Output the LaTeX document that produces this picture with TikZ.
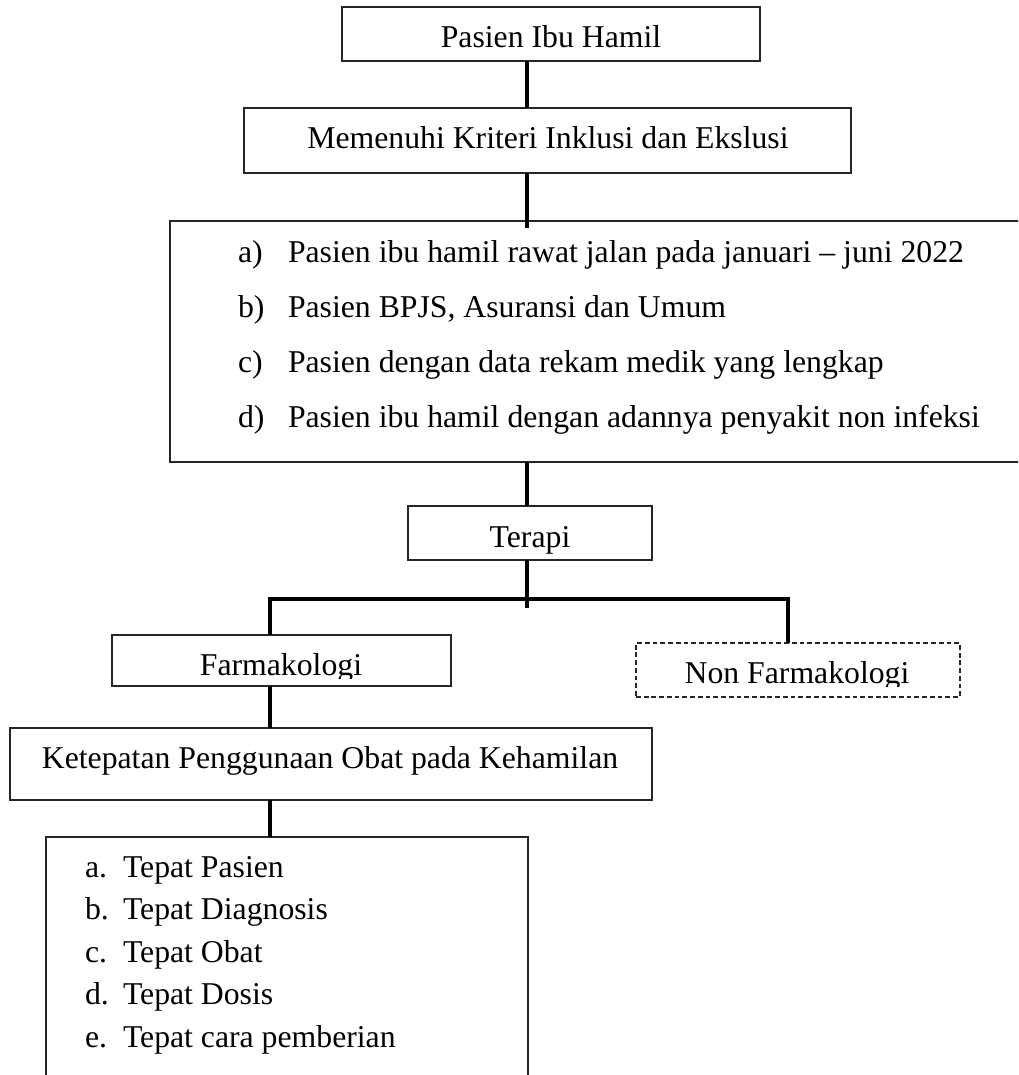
\documentclass[tikz,border=0pt]{standalone}
\usepackage{fontspec}
\setmainfont{Liberation Serif}
\begin{document}
\begin{tikzpicture}[x=0.75pt,y=-0.75pt,
  box/.style={draw=black!85, line width=0.9pt, inner sep=0pt, outer sep=0pt},
  dbox/.style={box, dash pattern=on 3.6pt off 2.2pt},
  txt/.style={inner sep=0pt, outer sep=0pt, anchor=base, font=\fontsize{23.8}{28}\selectfont},
  ltxt/.style={txt, anchor=base west},
  conn/.style={draw=black, line width=2.5pt, line join=miter}]
\useasboundingbox (0,0) rectangle (1018,1075);
\clip (0,0) rectangle (1018,1075);
\fill[white] (0,0) rectangle (1018,1075);

% boxes
\node[box, minimum width=313.5pt, minimum height=40.5pt] (b1) at (551,34) {};
\node[box, minimum width=455.25pt, minimum height=48.75pt] (b2) at (547.5,140.5) {};
\node[box, minimum width=652.5pt, minimum height=180.75pt] (b3) at (605,341.5) {};
\node[box, minimum width=183pt, minimum height=40.5pt] (b4) at (530,533) {};
\node[box, minimum width=254.25pt, minimum height=38.25pt] (b5) at (281.5,660.5) {};
\node[dbox, minimum width=243pt, minimum height=40.5pt] (b6) at (798,670) {};
\node[box, minimum width=481.5pt, minimum height=54pt] (b7) at (331,764) {};
\node[box, minimum width=361.5pt, minimum height=197.25pt] (b8) at (287,968.5) {};

% texts
\node[txt] (t1) at (551,47) {Pasien Ibu Hamil};
\node[txt] (t2) at (548,148) {Memenuhi Kriteri Inklusi dan Ekslusi};
\node[txt] (t4) at (530,547) {Terapi};
\begin{scope}
  \clip (114,637) rectangle (449,678);
  \node[txt] (t5) at (281,675) {Farmakologi};
\end{scope}
\begin{scope}
  \clip (638,645) rectangle (958,686);
  \node[txt] (t6) at (797,683) {Non Farmakologi};
\end{scope}
\node[txt] (t7) at (330,768) {Ketepatan Penggunaan Obat pada Kehamilan};

\node[ltxt] (la) at (238,262) {a)};
\node[ltxt] (ia) at (288,262) {Pasien ibu hamil rawat jalan pada januari -- juni 2022};
\node[ltxt] (lb) at (238,317) {b)};
\node[ltxt] (ib) at (288,317) {Pasien BPJS, Asuransi dan Umum};
\node[ltxt] (lc) at (238,372) {c)};
\node[ltxt] (ic) at (288,372) {Pasien dengan data rekam medik yang lengkap};
\node[ltxt] (ld) at (238,427) {d)};
\node[ltxt] (id) at (288,427) {Pasien ibu hamil dengan adannya penyakit non infeksi};

\node[ltxt] (ma) at (85,877) {a.};
\node[ltxt] (ja) at (123,877) {Tepat Pasien};
\node[ltxt] (mb) at (85,919.5) {b.};
\node[ltxt] (jb) at (123,919.5) {Tepat Diagnosis};
\node[ltxt] (mc) at (85,962) {c.};
\node[ltxt] (jc) at (123,962) {Tepat Obat};
\node[ltxt] (md) at (85,1004.5) {d.};
\node[ltxt] (jd) at (123,1004.5) {Tepat Dosis};
\node[ltxt] (me) at (85,1047) {e.};
\node[ltxt] (je) at (123,1047) {Tepat cara pemberian};

% connectors
\coordinate (sp) at (527,0);
\coordinate (lx) at (270,0);
\coordinate (rx) at (788,0);
\coordinate (bar) at (527,599);
\draw[conn] (b1.south -| sp) -- (b2.north -| sp);
\draw[conn] (b2.south -| sp) -- ([yshift=-5.25pt]b3.north -| sp);
\draw[conn] (b3.south -| sp) -- (b4.north -| sp);
\draw[conn] (b4.south -| sp) -- ([yshift=-6.75pt]bar);
\draw[conn] (b5.north -| lx) |- (bar) -| (b6.north -| rx);
\draw[conn] (b5.south -| lx) -- (b7.north -| lx);
\draw[conn] (b7.south -| lx) -- (b8.north -| lx);
\end{tikzpicture}
\end{document}
